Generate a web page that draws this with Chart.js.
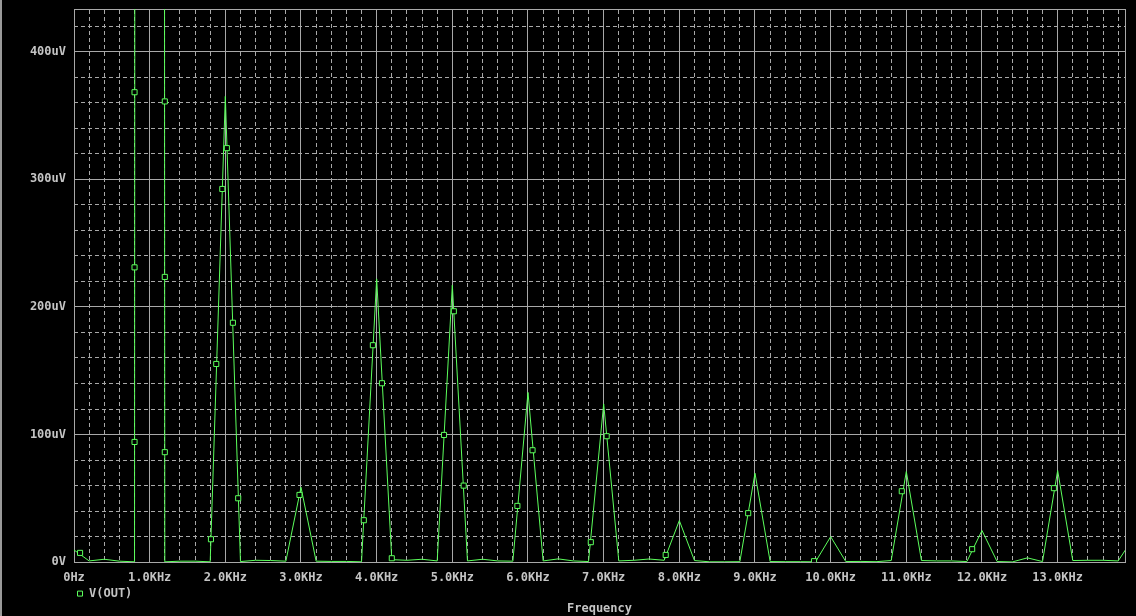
<!DOCTYPE html>
<html>
<head>
<meta charset="utf-8">
<title>V(OUT) spectrum</title>
<script src="https://cdn.jsdelivr.net/npm/chart.js@4.4.1/dist/chart.umd.min.js"></script>
<style>
  html, body { margin: 0; padding: 0; background: #000; }
  #wrap { position: relative; width: 1136px; height: 616px; background: #000; }
  #wrap::before { content: ""; position: absolute; left: 0; top: 0; width: 2px; height: 616px; background: #9a9a9a; }
</style>
</head>
<body>
<div id="wrap"><canvas id="fft"></canvas></div>
<script>
// FFT of V(OUT), 200 Hz bins (kHz / uV)
const freqKHz = [
  0.0, 0.2, 0.4, 0.6, 0.8, 1.0, 1.2, 1.4, 1.6, 1.8,
  2.0, 2.2, 2.4, 2.6, 2.8, 3.0, 3.2, 3.4, 3.6, 3.8,
  4.0, 4.2, 4.4, 4.6, 4.8, 5.0, 5.2, 5.4, 5.6, 5.8,
  6.0, 6.2, 6.4, 6.6, 6.8, 7.0, 7.2, 7.4, 7.6, 7.8,
  8.0, 8.2, 8.4, 8.6, 8.8, 9.0, 9.2, 9.4, 9.6, 9.8,
  10.0, 10.2, 10.4, 10.6, 10.8, 11.0, 11.2, 11.4, 11.6, 11.8,
  12.0, 12.2, 12.4, 12.6, 12.8, 13.0, 13.2, 13.4, 13.6, 13.8,
  14.0
];
const voutUV = [
  9.6, 1.0, 2.3, 0.8, 0.3, 1000000, 0.3, 0.8, 0.8, 0.3,
  365, 0.5, 1.5, 1.3, 0.8, 58.7, 0.8, 0.6, 0.6, 0.3,
  222, 2.0, 1.5, 2.3, 1.0, 217, 1.0, 2.3, 1.0, 0.8,
  133, 1.0, 2.6, 1.0, 0.5, 124, 1.0, 1.5, 2.5, 1.5,
  32.6, 1.3, 0.3, 0.3, 0.4, 69.7, 0.5, 0.4, 0.4, 0.3,
  20, 0.5, 0.6, 0.4, 1.3, 71, 1.3, 1.0, 1.0, 0.5,
  24.8, 0.5, 0.2, 3.4, 0.5, 71.8, 1.3, 1.5, 1.5, 1.0,
  19
];

// trace markers (little squares along the curve)
const markerKHz = [0.08, 0.8, 0.8, 0.8, 1.2, 1.2, 1.2, 1.81, 1.88, 1.96, 2.02, 2.10, 2.17,
  2.98, 3.83, 3.95, 4.07, 4.2, 4.89, 5.02, 5.15, 5.86, 6.06, 6.83, 7.04, 7.82, 8.91,
  9.78, 10.94, 11.87, 12.95];
const markerUV = [7.3, 94.2, 231, 368.2, 361, 223.5, 86.2, 18, 155.3, 292.4, 324.4, 187.6, 50.1,
  52.7, 32.9, 170, 140.2, 3.1, 99.7, 196.6, 60, 44.1, 87.7, 15.7, 98.7, 5.7, 38.4,
  0.8, 55.6, 10.2, 58];

const xTickLabels = ["0Hz", "1.0KHz", "2.0KHz", "3.0KHz", "4.0KHz", "5.0KHz", "6.0KHz",
  "7.0KHz", "8.0KHz", "9.0KHz", "10.0KHz", "11.0KHz", "12.0KHz", "13.0KHz"];
const yTickLabels = ["0V", "100uV", "200uV", "300uV", "400uV"];

const GREEN = "#5cff5c";
const GRID = "#a8a8a8";
const TEXT = "#c4c4c4";
const FONT = { family: "'DejaVu Sans Mono', monospace", size: 12, weight: "bold" };
const X_MAX = 13.89;
const Y_MAX = 433.4;

const onStep = (v, step) => Math.abs(v / step - Math.round(v / step)) < 1e-6;

new Chart(document.getElementById("fft"), {
  type: "line",
  data: {
    datasets: [
      {
        label: "V(OUT)",
        data: freqKHz.map((f, i) => ({ x: f, y: voutUV[i] })),
        borderColor: GREEN,
        backgroundColor: "#000",
        borderWidth: 1,
        pointRadius: 0,
        pointStyle: "rect",
        tension: 0,
        order: 1,
      },
      {
        label: "V(OUT) markers",
        data: markerKHz.map((f, i) => ({ x: f, y: markerUV[i] })),
        showLine: false,
        pointStyle: "rect",
        pointRadius: 3.6,
        pointBorderWidth: 1,
        pointBorderColor: GREEN,
        pointBackgroundColor: "#000",
        borderColor: GREEN,
        backgroundColor: "#000",
        order: 0,
      },
    ],
  },
  options: {
    responsive: true,
    maintainAspectRatio: false,
    animation: false,
    events: [],
    layout: { padding: { top: 9, right: 11, bottom: 0, left: 0 } },
    scales: {
      x: {
        type: "linear",
        position: "bottom",
        min: 0,
        max: X_MAX,
        ticks: {
          stepSize: 1,
          includeBounds: false,
          autoSkip: false,
          maxRotation: 0,
          padding: 8,
          color: TEXT,
          font: FONT,
          callback: (v) => xTickLabels[Math.round(v)],
        },
        grid: { color: GRID, lineWidth: 1, drawTicks: false },
        border: { color: GRID, width: 1 },
        afterFit: (s) => { s.height = 22.4; },
      },
      xMinor: {
        type: "linear",
        position: "top",
        min: 0,
        max: X_MAX,
        ticks: { stepSize: 0.2, includeBounds: false, display: false },
        grid: {
          color: (c) => (c.tick && onStep(c.tick.value, 1) ? "transparent" : GRID),
          drawTicks: false,
        },
        border: { color: GRID, width: 1, dash: [4, 3] },
        afterFit: (s) => { s.height = 0; },
      },
      y: {
        type: "linear",
        position: "left",
        min: 0,
        max: Y_MAX,
        ticks: {
          stepSize: 100,
          includeBounds: false,
          padding: 8,
          color: TEXT,
          font: FONT,
          callback: (v) => yTickLabels[Math.round(v / 100)],
        },
        grid: { color: GRID, lineWidth: 1, drawTicks: false },
        border: { color: GRID, width: 1 },
        afterFit: (s) => {
          s.width = 74;
          s.paddingTop = 0;
          s.paddingBottom = 0;
        },
      },
      yMinor: {
        type: "linear",
        position: "right",
        min: 0,
        max: Y_MAX,
        ticks: { stepSize: 20, includeBounds: false, display: false },
        grid: {
          color: (c) => (c.tick && onStep(c.tick.value, 100) ? "transparent" : GRID),
          drawTicks: false,
        },
        border: { color: GRID, width: 1, dash: [4, 3] },
        afterFit: (s) => {
          s.width = 0;
          s.paddingTop = 0;
          s.paddingBottom = 0;
        },
      },
    },
    plugins: {
      legend: {
        position: "bottom",
        align: "start",
        fullSize: false,
        labels: {
          usePointStyle: true,
          boxWidth: 6,
          boxHeight: 5,
          padding: 3,
          color: TEXT,
          font: FONT,
          filter: (item) => item.text === "V(OUT)",
        },
      },
      title: {
        display: true,
        text: "Frequency",
        position: "bottom",
        fullSize: false,
        color: TEXT,
        font: FONT,
        padding: { top: -8, bottom: 0 },
      },
      tooltip: { enabled: false },
    },
  },
});
</script>
</body>
</html>
